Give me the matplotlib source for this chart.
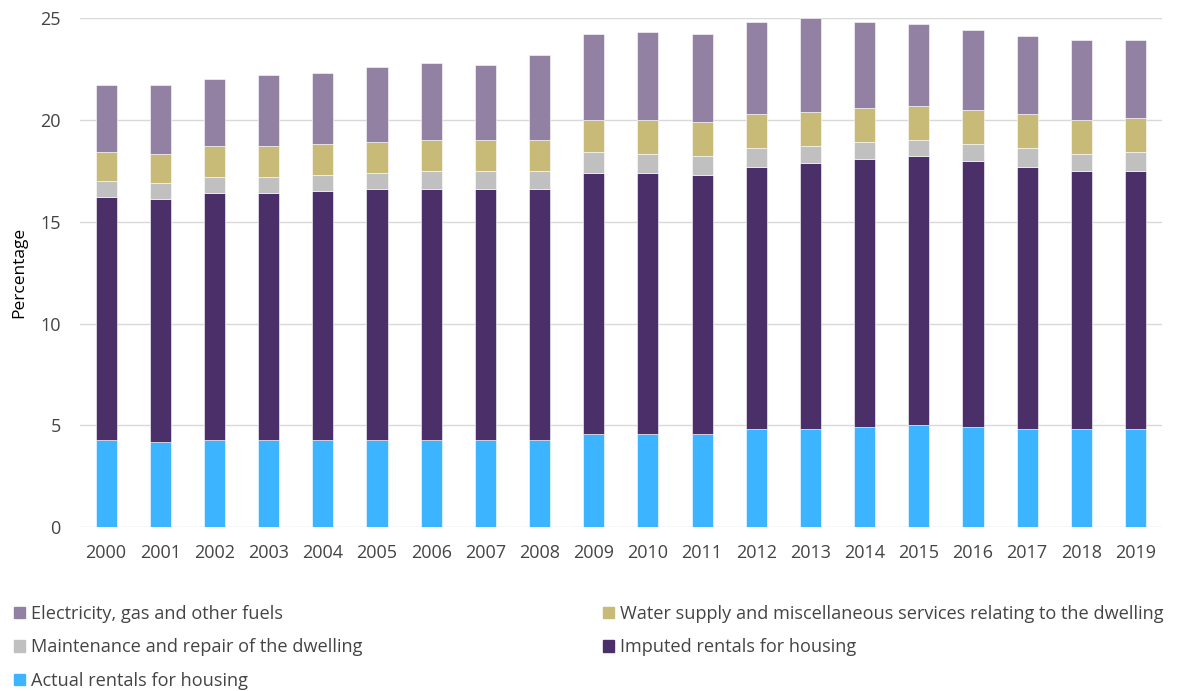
import matplotlib.pyplot as plt
import matplotlib.patches as mpatches
import numpy as np

plt.rcParams['font.family'] = ['Open Sans', 'DejaVu Sans']

years = [str(y) for y in range(2000, 2020)]

actual = [4.3, 4.2, 4.3, 4.3, 4.3, 4.3, 4.3, 4.3, 4.3, 4.6,
          4.6, 4.6, 4.8, 4.8, 4.9, 5.0, 4.9, 4.8, 4.8, 4.8]
imputed = [11.9, 11.9, 12.1, 12.1, 12.2, 12.3, 12.3, 12.3, 12.3, 12.8,
           12.8, 12.7, 12.9, 13.1, 13.2, 13.2, 13.1, 12.9, 12.7, 12.7]
maintenance = [0.8, 0.8, 0.8, 0.8, 0.8, 0.8, 0.9, 0.9, 0.9, 1.0,
               0.9, 0.9, 0.9, 0.8, 0.8, 0.8, 0.8, 0.9, 0.8, 0.9]
water = [1.4, 1.4, 1.5, 1.5, 1.5, 1.5, 1.5, 1.5, 1.5, 1.6,
         1.7, 1.7, 1.7, 1.7, 1.7, 1.7, 1.7, 1.7, 1.7, 1.7]
electricity = [3.3, 3.4, 3.3, 3.5, 3.5, 3.7, 3.8, 3.7, 4.2, 4.2,
               4.3, 4.3, 4.5, 4.6, 4.2, 4.0, 3.9, 3.8, 3.9, 3.8]

series = [
    ('Actual rentals for housing', actual, '#3db4ff'),
    ('Imputed rentals for housing', imputed, '#4b2f69'),
    ('Maintenance and repair of the dwelling', maintenance, '#c0c0c0'),
    ('Water supply and miscellaneous services relating to the dwelling', water, '#c8ba77'),
    ('Electricity, gas and other fuels', electricity, '#9381a3'),
]

fig = plt.figure(figsize=(11.78, 6.91), dpi=100)
ax = fig.add_axes([0.068, 0.237, 0.918, 0.737])

x = np.arange(len(years))
bottom = np.zeros(len(years))
handles = {}
for name, vals, color in series:
    ax.bar(x, vals, 0.39, bottom=bottom, color=color,
           edgecolor='#ffffff', linewidth=0.4, zorder=2)
    handles[name] = mpatches.Patch(color=color, label=name)
    bottom += np.array(vals)

ax.set_xlim(-0.48, 19.48)
ax.set_ylim(0, 25)
ax.set_yticks([0, 5, 10, 15, 20, 25])
ax.set_xticks(x)
ax.set_xticklabels(years)
ax.yaxis.grid(True, color='#d9d9d9', linewidth=1, zorder=0)
ax.set_axisbelow(True)
for s in ax.spines.values():
    s.set_visible(False)
ax.tick_params(axis='both', length=0, labelsize=13, colors='#444444')
ax.tick_params(axis='x', pad=12)
ax.tick_params(axis='y', pad=14)
ax.set_ylabel('Percentage', fontsize=12.5, color='#000000', labelpad=9)

left = ['Electricity, gas and other fuels',
        'Maintenance and repair of the dwelling',
        'Actual rentals for housing']
right = ['Water supply and miscellaneous services relating to the dwelling',
         'Imputed rentals for housing']

kw = dict(frameon=False, fontsize=13.1, handlelength=0.6, handleheight=0.6,
          handletextpad=0.3, labelspacing=0.85, labelcolor='#444444',
          loc='upper left', borderaxespad=0)
fig.legend([handles[n] for n in left], left, bbox_to_anchor=(0.006, 0.135), **kw)
fig.legend([handles[n] for n in right], right, bbox_to_anchor=(0.506, 0.135), **kw)

fig.savefig('out.png', dpi=100)
